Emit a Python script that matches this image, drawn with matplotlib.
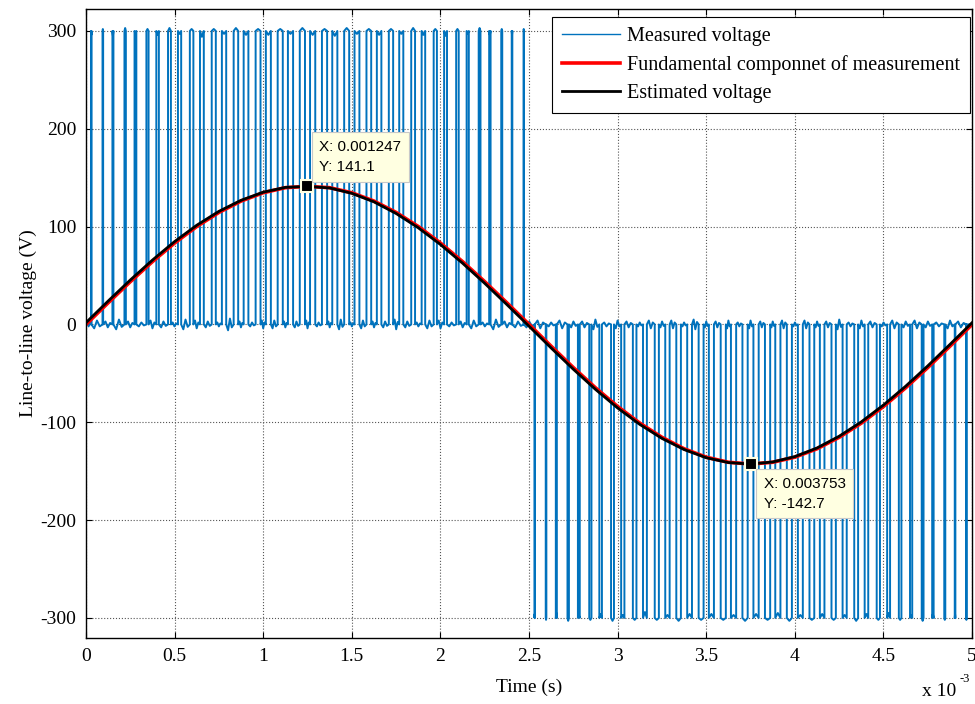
import numpy as np
import matplotlib
matplotlib.use("Agg")
import matplotlib.pyplot as plt

# ---- dados (tempo em ms, tensao em V) ----
# pulsos da tensao medida: centro e largura de cada pulso
pulsos_pos_centro = [0.030, 0.095, 0.152, 0.221, 0.279, 0.347, 0.404, 0.471, 0.528, 0.596,
                     0.654, 0.721, 0.779, 0.846, 0.903, 0.971, 1.029, 1.096, 1.154, 1.221,
                     1.279, 1.346, 1.404, 1.471, 1.529, 1.596, 1.654, 1.721, 1.779, 1.846,
                     1.904, 1.971, 2.029, 2.096, 2.154, 2.221, 2.279, 2.346, 2.404, 2.470]
pulsos_pos_largura = [0.0011, 0.0035, 0.0057, 0.0080, 0.0102, 0.0123, 0.0144, 0.0163, 0.0182, 0.0200,
                      0.0216, 0.0231, 0.0244, 0.0256, 0.0267, 0.0276, 0.0283, 0.0288, 0.0292, 0.0294,
                      0.0294, 0.0292, 0.0288, 0.0283, 0.0276, 0.0267, 0.0256, 0.0244, 0.0231, 0.0216,
                      0.0200, 0.0182, 0.0163, 0.0144, 0.0123, 0.0102, 0.0080, 0.0057, 0.0035, 0.0011]
pulsos_neg_centro = [2.532, 2.596, 2.654, 2.721, 2.781, 2.846, 2.904, 2.971, 3.029, 3.096,
                     3.154, 3.221, 3.281, 3.344, 3.406, 3.471, 3.529, 3.596, 3.654, 3.719,
                     3.781, 3.846, 3.904, 3.969, 4.031, 4.096, 4.154, 4.219, 4.281, 4.346,
                     4.404, 4.471, 4.529, 4.594, 4.656, 4.721, 4.779, 4.846, 4.904, 4.968]
pulsos_neg_largura = [0.0012, 0.0036, 0.0058, 0.0081, 0.0104, 0.0125, 0.0146, 0.0165, 0.0184, 0.0202,
                      0.0218, 0.0233, 0.0247, 0.0259, 0.0270, 0.0279, 0.0286, 0.0291, 0.0295, 0.0297,
                      0.0297, 0.0295, 0.0291, 0.0286, 0.0279, 0.0270, 0.0259, 0.0247, 0.0233, 0.0218,
                      0.0202, 0.0184, 0.0165, 0.0146, 0.0125, 0.0104, 0.0081, 0.0058, 0.0036, 0.0012]
nivel_pos = 300
nivel_neg = -300

ruido_zero_pos = [2, -4, 3, -5, 3, -2, 4, -3, 2, -5, 4, -3, 2, -6, 3, -2, 4, -4, 3, -3,
                  4, -2, 3, -5, 2, -4, 3, -3, 5, -3, 2, -4, 4, -2, 3, -4, 2, -5, 3, -3]
ruido_zero_neg = [-3, 4, -2, 4, -3, 3, -5, 2, -4, 3, -2, 4, -3, 4, -2, 5, -3, 3, -4, 2,
                  -4, 3, -3, 4, -2, 4, -3, 3, -5, 2, -4, 3, -2, 4, -3, 4, -3, 2, -4, 3]
ruido_topo = [-4, 2, -5, 3, -3, 2, -4, 3, -3, 2, -6, 2, -3, 3, -4, 2, -4, 2, -3, 3,
              -4, 2, -5, 3, -3, 2, -4, 2, -3, 3, -4, 2, -5, 2, -3, 3, -4, 2, -4, 2]

# componente fundamental (vermelho) e tensao estimada (preto)
t_curva = [0.000, 0.125, 0.250, 0.375, 0.500, 0.625, 0.750, 0.875, 1.000, 1.125,
           1.250, 1.375, 1.500, 1.625, 1.750, 1.875, 2.000, 2.125, 2.250, 2.375,
           2.500, 2.625, 2.750, 2.875, 3.000, 3.125, 3.250, 3.375, 3.500, 3.625,
           3.750, 3.875, 4.000, 4.125, 4.250, 4.375, 4.500, 4.625, 4.750, 4.875, 5.000]
v_fundamental = [0.0, 22.1, 43.7, 64.2, 83.2, 100.1, 114.5, 126.1, 134.6, 139.8,
                 141.1, 139.8, 134.6, 126.1, 114.5, 100.1, 83.2, 64.2, 43.7, 22.1,
                 0.0, -22.3, -44.1, -64.8, -83.9, -100.9, -115.4, -127.1, -135.7, -140.9,
                 -142.7, -140.9, -135.7, -127.1, -115.4, -100.9, -83.9, -64.8, -44.1, -22.3, 0.0]
v_estimada = [1.8, 23.9, 45.4, 65.8, 84.7, 101.4, 115.6, 126.9, 135.2, 140.1,
              141.1, 139.5, 134.0, 125.3, 113.4, 98.8, 81.7, 62.6, 42.0, 20.3,
              -1.8, -24.1, -45.8, -66.4, -85.4, -102.2, -116.5, -127.9, -136.3, -141.2,
              -142.7, -140.6, -135.1, -126.3, -114.3, -99.6, -82.4, -63.2, -42.4, -20.5, 1.8]

# marcadores (data tips)
tips_x = [0.001247, 0.003753]
tips_y = [141.1, -142.7]

xticks_val = [0, 0.5, 1, 1.5, 2, 2.5, 3, 3.5, 4, 4.5, 5]
xticks_txt = ["0", "0.5", "1", "1.5", "2", "2.5", "3", "3.5", "4", "4.5", "5"]
yticks_val = [-300, -200, -100, 0, 100, 200, 300]
yticks_txt = ["-300", "-200", "-100", "0", "100", "200", "300"]

# ---- monta a forma de onda PWM a partir dos pulsos ----
t_med = [0.0]
v_med = [0.0]
fim_ant = 0.0
for centros, larguras, nivel, rz in [(pulsos_pos_centro, pulsos_pos_largura, nivel_pos, ruido_zero_pos),
                                      (pulsos_neg_centro, pulsos_neg_largura, nivel_neg, ruido_zero_neg)]:
    sinal = 1 if nivel > 0 else -1
    for c, w, r0, rt in zip(centros, larguras, rz, ruido_topo):
        a, b = c - w / 2, c + w / 2
        # trecho em zero entre pulsos (com oscilacao)
        gap = a - fim_ant
        t_med += [fim_ant + gap / 4, fim_ant + gap / 2, fim_ant + 3 * gap / 4]
        v_med += [r0, -r0, r0 * 0.5]
        # pulso
        t_med += [a, a, c, b, b]
        v_med += [0.0, nivel, nivel + sinal * rt, nivel, 0.0]
        fim_ant = b
t_med.append(5.0)
v_med.append(0.0)
t_med = np.array(t_med) * 1e-3
t_curva = np.array(t_curva) * 1e-3

plt.rcParams["font.family"] = ["Liberation Serif", "DejaVu Serif"]

fig = plt.figure(figsize=(9.75, 7.04), dpi=100)
ax = fig.add_axes([0.0882, 0.0938, 0.9088, 0.8935])

ax.plot(t_med, v_med, color="#0072BD", lw=1.4, label="Measured voltage")
ax.plot(t_curva, v_fundamental, color="red", lw=2.6, label="Fundamental componnet of measurement")
ax.plot(t_curva, v_estimada, color="black", lw=2.0, label="Estimated voltage")

ax.plot(tips_x, tips_y, ls="none", marker="s", ms=9, mfc="black", mec="#FFFFE1", mew=1.5, zorder=5)

caixa = dict(boxstyle="square,pad=0.5", fc="#FFFFE1", ec="#C8C8C8", lw=0.8)
ax.annotate(f"X: {tips_x[0]:.6f}\nY: {tips_y[0]:.1f}", (tips_x[0], tips_y[0]),
            xytext=(9, 9), textcoords="offset points", ha="left", va="bottom",
            fontsize=11, family=["Liberation Sans", "DejaVu Sans"], bbox=caixa, zorder=6,
            linespacing=1.55)
ax.annotate(f"X: {tips_x[1]:.6f}\nY: {tips_y[1]:.1f}", (tips_x[1], tips_y[1]),
            xytext=(9, -9), textcoords="offset points", ha="left", va="top",
            fontsize=11, family=["Liberation Sans", "DejaVu Sans"], bbox=caixa, zorder=6,
            linespacing=1.55)

ax.set_xlim(0, 0.005)
ax.set_ylim(-320.5, 322.5)
ax.set_xticks([x * 1e-3 for x in xticks_val])
ax.set_xticklabels(xticks_txt)
ax.set_yticks(yticks_val)
ax.set_yticklabels(yticks_txt)
ax.tick_params(direction="in", top=True, right=True, length=4, labelsize=14, pad=7)
ax.grid(True, ls=":", color="#555555", lw=0.8)
for s in ax.spines.values():
    s.set_linewidth(1.0)

ax.set_xlabel("Time (s)", fontsize=14, labelpad=10)
ax.set_ylabel("Line-to-line voltage (V)", fontsize=14, labelpad=2)
fig.text(922 / 975, 0.006, "x 10", fontsize=14, ha="left", va="bottom")
fig.text(960 / 975, 0.027, "-3", fontsize=9, ha="left", va="bottom")

leg = ax.legend(loc="upper right", bbox_to_anchor=(0.998, 0.987), borderaxespad=0,
                fontsize=14.5, frameon=True, fancybox=False, edgecolor="black", framealpha=1,
                handlelength=2.9, handletextpad=0.35, labelspacing=0.45, borderpad=0.5)
leg.get_frame().set_linewidth(0.8)
leg.get_lines()[0].set_linewidth(1.0)

fig.savefig("out.png", dpi=100)
